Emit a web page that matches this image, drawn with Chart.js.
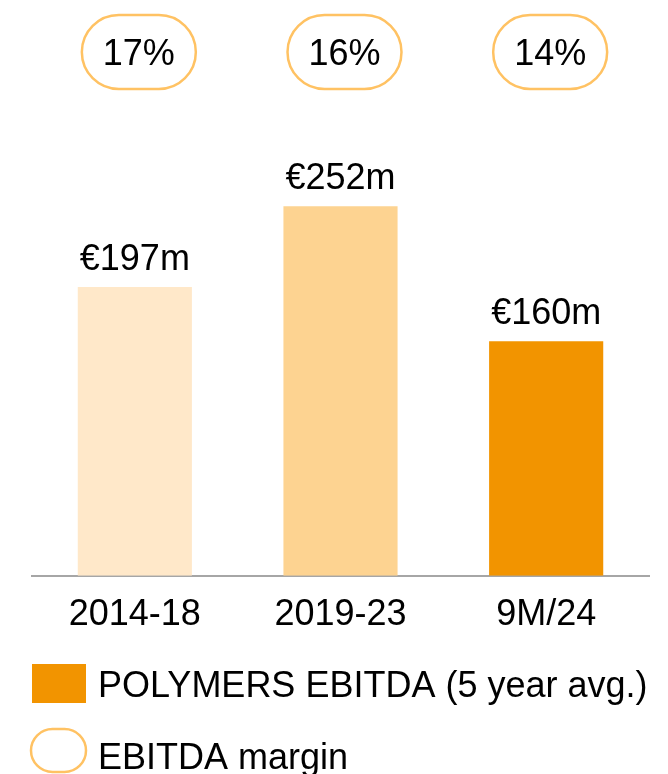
<!DOCTYPE html>
<html>
<head>
<meta charset="utf-8">
<script src="https://cdn.jsdelivr.net/npm/chart.js@4.4.1/dist/chart.umd.min.js"></script>
<style>
html,body{margin:0;padding:0;background:#fff;}
#wrap{position:relative;width:668px;height:774px;}
</style>
</head>
<body>
<div id="wrap"><canvas id="c" width="668" height="774"></canvas></div>
<script>
const categories = ['2014-18', '2019-23', '9M/24'];
const ebitdaValues = [197, 252, 160];
const valueLabels = ['€197m', '€252m', '€160m'];
const marginLabels = ['17%', '16%', '14%'];
const barColors = ['#FFE8C9', '#FDD391', '#F29400'];
const legendLabels = ['POLYMERS EBITDA (5 year avg.)', 'EBITDA margin'];

const FONT = '"Liberation Sans", Arial, sans-serif';
const PILL = '#FFC263';

function roundRect(ctx, x, y, w, h, r) {
  ctx.beginPath();
  ctx.moveTo(x + r, y);
  ctx.lineTo(x + w - r, y);
  ctx.arc(x + w - r, y + r, r, -Math.PI / 2, 0);
  ctx.lineTo(x + w, y + h - r);
  ctx.arc(x + w - r, y + h - r, r, 0, Math.PI / 2);
  ctx.lineTo(x + r, y + h);
  ctx.arc(x + r, y + h - r, r, Math.PI / 2, Math.PI);
  ctx.lineTo(x, y + r);
  ctx.arc(x + r, y + r, r, Math.PI, Math.PI * 1.5);
  ctx.closePath();
}

const decor = {
  id: 'decor',
  afterDatasetsDraw(chart) {
    const ctx = chart.ctx;
    const meta = chart.getDatasetMeta(0);
    const xs = chart.scales.x;
    ctx.save();
    ctx.font = '36px ' + FONT;
    ctx.fillStyle = '#000';
    ctx.textAlign = 'center';
    ctx.textBaseline = 'alphabetic';
    meta.data.forEach((bar, i) => {
      ctx.fillText(valueLabels[i], bar.x, bar.y - 17);
    });
    // margin pills
    categories.forEach((c, i) => {
      const cx = xs.getPixelForValue(i) + 4;
      const w = 114, h = 74, y = 15;
      ctx.lineWidth = 2.5;
      ctx.strokeStyle = PILL;
      roundRect(ctx, cx - w / 2, y, w, h, h / 2);
      ctx.stroke();
      ctx.fillStyle = '#000';
      ctx.textBaseline = 'middle';
      ctx.fillText(marginLabels[i], cx, y + h / 2 + 3);
    });
    // legend
    ctx.textAlign = 'left';
    ctx.textBaseline = 'middle';
    ctx.fillStyle = barColors[2];
    ctx.fillRect(32, 664, 54, 39);
    ctx.fillStyle = '#000';
    ctx.fillText(legendLabels[0], 98, 687);
    ctx.lineWidth = 2.5;
    ctx.strokeStyle = PILL;
    roundRect(ctx, 31, 729, 55, 43, 21.5);
    ctx.stroke();
    ctx.fillStyle = '#000';
    ctx.fillText(legendLabels[1], 98, 759);
    ctx.restore();
  }
};

new Chart(document.getElementById('c'), {
  type: 'bar',
  data: {
    labels: categories,
    datasets: [{
      data: ebitdaValues,
      backgroundColor: barColors,
      borderWidth: 0,
      categoryPercentage: 1,
      barPercentage: 0.555
    }]
  },
  options: {
    responsive: false,
    animation: false,
    events: [],
    layout: { padding: { top: 136, left: 32, right: 19, bottom: 119 } },
    plugins: { legend: { display: false }, tooltip: { enabled: false } },
    scales: {
      y: { display: false, min: 0, max: 300 },
      x: {
        grid: { display: false, drawTicks: false },
        border: { display: true, color: '#A6A6A6', width: 2 },
        ticks: { color: '#000', font: { family: FONT, size: 36 }, padding: 18, maxRotation: 0 }
      }
    }
  },
  plugins: [decor]
});
</script>
</body>
</html>
